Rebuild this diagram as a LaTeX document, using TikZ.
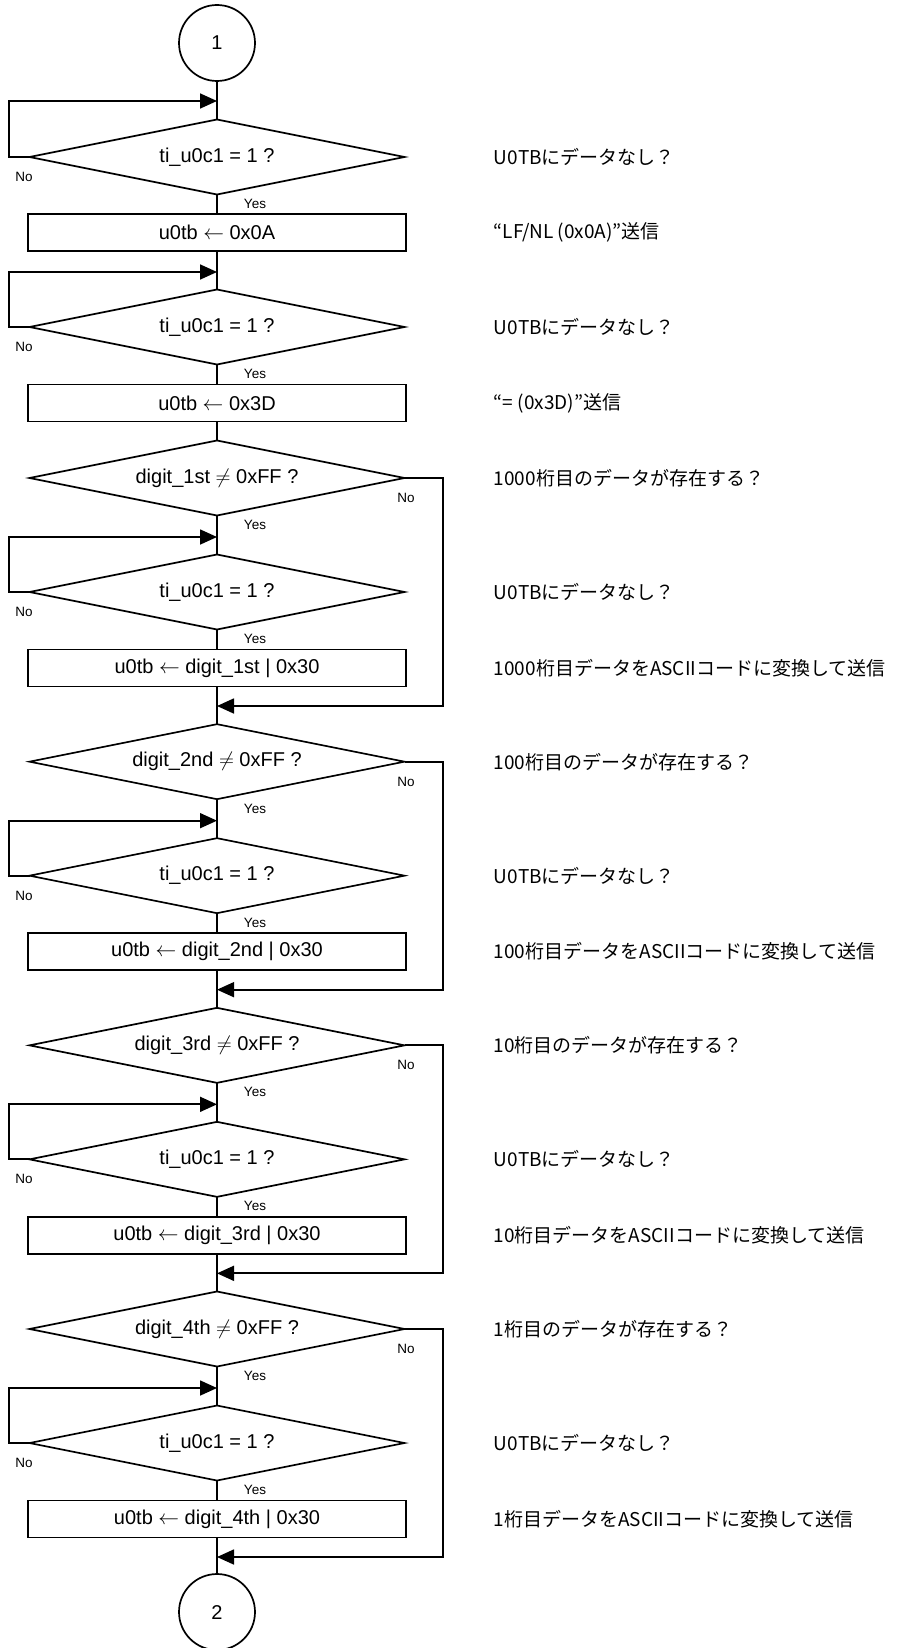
\documentclass[tikz,border=0pt]{standalone}
\usepackage{fontspec}
\setmainfont{Liberation Sans}
\newfontfamily\jp{Noto Sans CJK JP}
\usetikzlibrary{shapes.geometric,arrows.meta}
\newcommand{\larr}{ $\leftarrow$ }
\newcommand{\neqsym}{ $\neq$ }
\begin{document}
\begin{tikzpicture}[x=1pt,y=-1pt,line width=1.7pt,
  dia/.style={draw,diamond,aspect=5,minimum width=375pt,minimum height=75pt,inner sep=0pt,outer sep=0pt,font=\fontsize{20}{24}\selectfont},
  proc/.style={draw,rectangle,minimum width=378pt,minimum height=37pt,inner sep=0pt,outer sep=0pt,font=\fontsize{20}{24}\selectfont},
  conn/.style={draw,circle,minimum size=76pt,inner sep=0pt,outer sep=0pt,font=\fontsize{20}{24}\selectfont},
  yn/.style={inner sep=0pt,font=\fontsize{13.5}{16}\selectfont},
  note/.style={anchor=west,inner sep=0pt,font=\jp\fontsize{19}{24}\selectfont},
  arr/.style={-{Triangle[length=17pt,width=15pt]}}]
\useasboundingbox (0,0) rectangle (898,1648);
\coordinate (lx) at (9,0);
\coordinate (rx) at (443,0);
% top part
\node[conn] (c1) at (217,43) {1};
\node[dia] (q1) at (217,157) {ti\_u0c1 = 1 ?};
\node[proc] (p1) at (217,232.5) {u0tb\larr 0x0A};
\node[dia] (q2) at (217,327) {ti\_u0c1 = 1 ?};
\node[proc] (p2) at (217,403) {u0tb\larr 0x3D};
\coordinate (a1) at (217,101);
\coordinate (a2) at (217,272);
\draw (c1.south) -- (q1.north);
\draw[arr] (q1.west) -- (q1.west -| lx) |- (a1);
\draw (q1.south) -- (p1.north);
\draw (p1.south) -- (q2.north);
\draw[arr] (q2.west) -- (q2.west -| lx) |- (a2);
\draw (q2.south) -- (p2.north);
\node[yn] (yq1) at (255,204) {Yes};
\node[yn] (nq1) at (24,177) {No};
\node[yn] (yq2) at (255,374) {Yes};
\node[yn] (nq2) at (24,347) {No};
\node[note] (n1) at (493,157) {U0TBにデータなし？};
\node[note] (n2) at (493,232.5) {“LF/NL (0x0A)”送信};
\node[note] (n3) at (493,327) {U0TBにデータなし？};
\node[note] (n4) at (493,403) {“= (0x3D)”送信};
% digit blocks
\foreach \i/\D/\ord/\nn in {1/478/1st/1000,2/761.67/2nd/100,3/1045.33/3rd/10,4/1329/4th/1}{
  \node[dia] (d\i) at (217,\D) {digit\_\ord\neqsym 0xFF ?};
  \coordinate (y\i) at (217,\D+59);
  \node[dia] (t\i) at (217,\D+114) {ti\_u0c1 = 1 ?};
  \node[proc] (b\i) at (217,\D+190) {u0tb\larr digit\_\ord\ | 0x30};
  \coordinate (m\i) at (217,\D+228);
  \draw (d\i.south) -- (t\i.north);
  \draw[arr] (t\i.west) -- (t\i.west -| lx) |- (y\i);
  \draw (t\i.south) -- (b\i.north);
  \draw[arr] (d\i.east) -- (d\i.east -| rx) |- (m\i);
  \node[yn] (yd\i) at (255,\D+47) {Yes};
  \node[yn] (nd\i) at (406,\D+20) {No};
  \node[yn] (yt\i) at (255,\D+161) {Yes};
  \node[yn] (nt\i) at (24,\D+134) {No};
  \node[note] (ne\i) at (493,\D) {{\nn}桁目のデータが存在する？};
  \node[note] (nu\i) at (493,\D+114) {U0TBにデータなし？};
  \node[note] (na\i) at (493,\D+190) {{\nn}桁目データをASCIIコードに変換して送信};
}
\draw (p2.south) -- (d1.north);
\foreach \i/\j in {1/2,2/3,3/4}{
  \draw (b\i.south) -- (d\j.north);
}
\node[conn] (c2) at (217,1612) {2};
\draw (b4.south) -- (c2.north);
\end{tikzpicture}
\end{document}
